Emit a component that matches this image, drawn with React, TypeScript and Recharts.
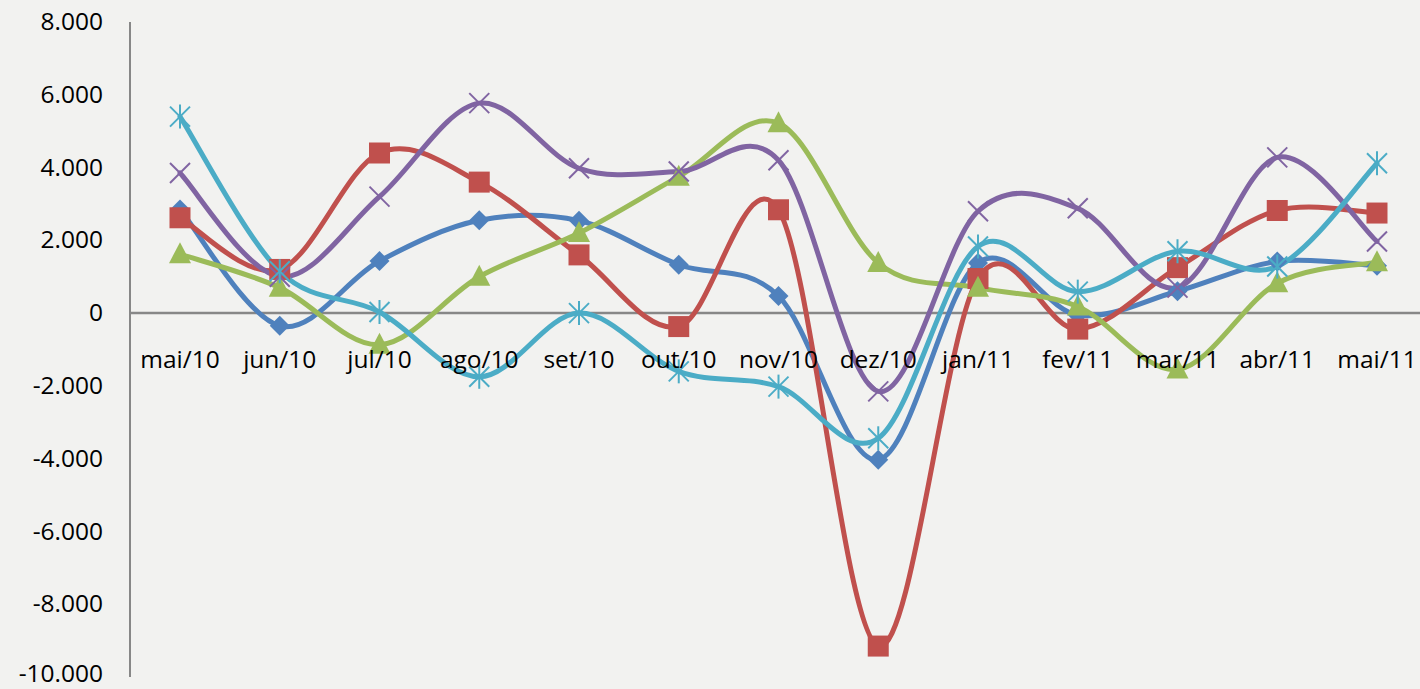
import React from 'react';
import { LineChart, Line, XAxis, YAxis, ReferenceLine } from 'recharts';

const categories = ['mai/10', 'jun/10', 'jul/10', 'ago/10', 'set/10', 'out/10', 'nov/10', 'dez/10', 'jan/11', 'fev/11', 'mar/11', 'abr/11', 'mai/11'];
const seriesBlue = [2850, -350, 1430, 2550, 2540, 1330, 470, -4030, 1380, -50, 600, 1420, 1300];
const seriesRed = [2620, 1200, 4400, 3600, 1600, -370, 2840, -9150, 950, -440, 1250, 2820, 2750];
const seriesGreen = [1620, 700, -870, 1000, 2200, 3750, 5220, 1380, 700, 180, -1550, 820, 1400];
const seriesPurple = [3850, 1000, 3200, 5770, 3980, 3890, 4200, -2150, 2800, 2880, 700, 4280, 1970];
const seriesCyan = [5400, 1150, 30, -1750, 0, -1600, -2020, -3440, 1830, 590, 1700, 1280, 4120];
const yTicks = [-10000, -8000, -6000, -4000, -2000, 0, 2000, 4000, 6000, 8000];

const data = categories.map((c, i) => ({
  cat: c,
  blue: seriesBlue[i],
  red: seriesRed[i],
  green: seriesGreen[i],
  purple: seriesPurple[i],
  cyan: seriesCyan[i],
}));

const W = 1420;
const H = 689;
const PLOT_TOP = 22;
const PLOT_BOTTOM = 677;
const Y_MIN = -10000;
const Y_MAX = 8000;
const ZERO_Y = PLOT_TOP + (PLOT_BOTTOM - PLOT_TOP) * (Y_MAX / (Y_MAX - Y_MIN));
const FONT = '"Open Sans", "Noto Sans", sans-serif';

const C_BLUE = '#4F81BD';
const C_RED = '#C0504D';
const C_GREEN = '#9BBB59';
const C_PURPLE = '#8064A2';
const C_CYAN = '#4BACC6';

// Excel-like smoothing (Catmull-Rom style Bezier)
function excelCurve(context: any) {
  let pts: [number, number][] = [];
  return {
    areaStart() {},
    areaEnd() {},
    lineStart() {
      pts = [];
    },
    point(x: number, y: number) {
      pts.push([+x, +y]);
    },
    lineEnd() {
      const n = pts.length;
      if (n === 0) return;
      context.moveTo(pts[0][0], pts[0][1]);
      if (n === 1) return;
      for (let i = 0; i < n - 1; i++) {
        const p0 = pts[Math.max(i - 1, 0)];
        const p1 = pts[i];
        const p2 = pts[i + 1];
        const p3 = pts[Math.min(i + 2, n - 1)];
        context.bezierCurveTo(
          p1[0] + (p2[0] - p0[0]) / 6,
          p1[1] + (p2[1] - p0[1]) / 6,
          p2[0] - (p3[0] - p1[0]) / 6,
          p2[1] - (p3[1] - p1[1]) / 6,
          p2[0],
          p2[1]
        );
      }
    },
  };
}

const fmt = (n: number) => {
  const s = Math.abs(n).toString().replace(/\B(?=(\d{3})+(?!\d))/g, '.');
  return (n < 0 ? '-' : '') + s;
};

const YTick = (props: any) => {
  const isBottom = props.payload.value === Y_MIN;
  return (
    <text x={103} y={props.y - (isBottom ? 3 : 0)} dy="0.33em" textAnchor="end" fontFamily={FONT} fontSize={24.5} fill="#000">
      {fmt(props.payload.value)}
    </text>
  );
};

const XTick = (props: any) => (
  <text x={props.x} y={ZERO_Y + 55} textAnchor="middle" fontFamily={FONT} fontSize={24.5} fill="#000">
    {props.payload.value}
  </text>
);

const Diamond = ({ cx, cy }: any) => (
  <polygon points={`${cx},${cy - 10} ${cx + 10},${cy} ${cx},${cy + 10} ${cx - 10},${cy}`} fill={C_BLUE} />
);
const Square = ({ cx, cy }: any) => <rect x={cx - 10.5} y={cy - 10.5} width={21} height={21} fill={C_RED} />;
const Triangle = ({ cx, cy }: any) => (
  <polygon points={`${cx},${cy - 12} ${cx + 11},${cy + 9} ${cx - 11},${cy + 9}`} fill={C_GREEN} />
);
const XMark = ({ cx, cy }: any) => (
  <g stroke={C_PURPLE} strokeWidth={2}>
    <line x1={cx - 10} y1={cy - 10} x2={cx + 10} y2={cy + 10} />
    <line x1={cx - 10} y1={cy + 10} x2={cx + 10} y2={cy - 10} />
  </g>
);
const Asterisk = ({ cx, cy }: any) => (
  <g stroke={C_CYAN} strokeWidth={2}>
    <line x1={cx - 10} y1={cy - 10} x2={cx + 10} y2={cy + 10} />
    <line x1={cx - 10} y1={cy + 10} x2={cx + 10} y2={cy - 10} />
    <line x1={cx} y1={cy - 12} x2={cx} y2={cy + 12} />
  </g>
);

const mk = (Comp: any) => (p: any) => {
  if (p.cx == null || p.cy == null) return <g key={`e${p.index}`} />;
  return (
    <g key={`m${p.index}`}>
      <Comp cx={p.cx} cy={p.cy} />
    </g>
  );
};

export default function App() {
  const lineProps = {
    type: excelCurve as any,
    strokeWidth: 5,
    strokeLinecap: 'round' as const,
    strokeLinejoin: 'round' as const,
    isAnimationActive: false,
    activeDot: false as any,
  };
  return (
    <div style={{ position: 'absolute', left: 0, top: 0, width: W, height: H, background: '#f2f2f0' }}>
      <LineChart width={W} height={H} data={data} margin={{ top: PLOT_TOP, right: 0, bottom: 0, left: 0 }}>
        <XAxis
          dataKey="cat"
          height={H - PLOT_BOTTOM}
          axisLine={false}
          tickLine={false}
          tick={<XTick />}
          interval={0}
          padding={{ left: 50, right: 43 }}
        />
        <YAxis
          domain={[Y_MIN, Y_MAX]}
          ticks={yTicks}
          interval={0}
          width={130}
          axisLine={{ stroke: '#878787', strokeWidth: 2 }}
          tickLine={false}
          tick={<YTick />}
        />
        <ReferenceLine y={0} stroke="#878787" strokeWidth={2.5} />
        <Line dataKey="blue" stroke={C_BLUE} dot={mk(Diamond)} {...lineProps} />
        <Line dataKey="red" stroke={C_RED} dot={mk(Square)} {...lineProps} />
        <Line dataKey="green" stroke={C_GREEN} dot={mk(Triangle)} {...lineProps} />
        <Line dataKey="purple" stroke={C_PURPLE} dot={mk(XMark)} {...lineProps} />
        <Line dataKey="cyan" stroke={C_CYAN} dot={mk(Asterisk)} {...lineProps} />
      </LineChart>
    </div>
  );
}
